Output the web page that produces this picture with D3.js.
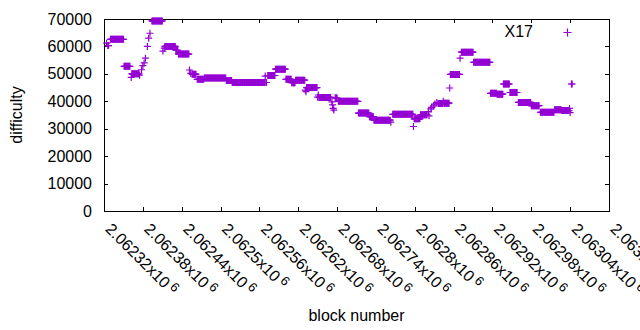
<!DOCTYPE html>
<html lang="en">
<head>
<meta charset="UTF-8">
<title>difficulty</title>
<script src="https://cdn.jsdelivr.net/npm/d3@7"></script>
<style>
  body { margin: 0; background: #fff; }
  text { font-family: "Liberation Sans", Arial, sans-serif; }
</style>
</head>
<body>
<script>

// runs of equal difficulty: first block, number of blocks, difficulty
var runStart = [2062324, 2062326, 2062330, 2062351, 2062362, 2062363, 2062375, 2062378, 2062380, 2062382,
                2062384, 2062387, 2062389, 2062391, 2062394, 2062411, 2062413, 2062414, 2062431, 2062435,
                2062452, 2062454, 2062456, 2062464, 2062475, 2062509, 2062518, 2062569, 2062570, 2062573,
                2062585, 2062601, 2062610, 2062616, 2062631, 2062632, 2062633, 2062650, 2062651, 2062652,
                2062672, 2062673, 2062674, 2062675, 2062677, 2062682, 2062713, 2062730, 2062737, 2062763,
                2062766, 2062798, 2062799, 2062809, 2062821, 2062822, 2062825, 2062826, 2062829, 2062831,
                2062834, 2062836, 2062844, 2062845, 2062854, 2062855, 2062870, 2062872, 2062891, 2062917,
                2062927, 2062937, 2062947, 2062960, 2062980, 2062994, 2063016, 2063027, 2063039, 2063040,
                2063042];
var runCount = [1, 2, 21, 10, 1, 12, 1, 1, 1, 1,
                1, 1, 1, 1, 17, 1, 1, 17, 4, 17,
                1, 1, 7, 11, 34, 9, 51, 1, 2, 12,
                16, 9, 6, 15, 1, 1, 17, 1, 1, 19,
                1, 1, 1, 1, 4, 31, 17, 7, 26, 1,
                32, 1, 10, 11, 1, 1, 1, 1, 1, 1,
                1, 8, 1, 9, 1, 15, 1, 19, 26, 10,
                10, 10, 12, 20, 13, 22, 11, 12, 1, 1,
                2];
var runDiff  = [61200, 60300, 62600, 52750, 48700, 50000, 49500, 51500, 53000, 54000,
                55700, 60000, 63000, 64800, 69300, 58300, 59400, 60000, 58600, 57200,
                51400, 50200, 49900, 48000, 48450, 47600, 46850, 49200, 46850, 49400,
                51700, 48000, 46800, 47700, 44100, 43500, 45000, 41500, 42300, 41400,
                39800, 38700, 37400, 36800, 41200, 40000, 35700, 34400, 33100, 32400,
                35250, 30800, 33600, 35100, 36200, 34700, 37200, 37800, 38300, 39000,
                39600, 39200, 40000, 39300, 44850, 49800, 55700, 57900, 54200, 42900,
                42600, 46300, 43200, 39600, 38400, 36000, 36900, 36600, 37400, 35900,
                46300];

var xTicks = [2062320, 2062380, 2062440, 2062500, 2062560, 2062620, 2062680,
              2062740, 2062800, 2062860, 2062920, 2062980, 2063040, 2063100];
var yTicks = [0, 10000, 20000, 30000, 40000, 50000, 60000, 70000];
var seriesName = "X17";

// one point per block
var points = [];
runStart.forEach(function (s, i) {
    for (var k = 0; k < runCount[i]; k++) {
        points.push({block: s + k, diff: runDiff[i]});
    }
});

var width = 640, height = 330;
var plotL = 104, plotR = 609, plotT = 19, plotB = 211;
var color = "#9400d3";
var fs = "16px";

var svg = d3.select("body").append("svg")
    .attr("width", width)
    .attr("height", height);

var x = d3.scaleLinear().domain([xTicks[0], xTicks[xTicks.length - 1]]).range([plotL, plotR]);
var y = d3.scaleLinear().domain([0, 70000]).range([plotB, plotT]);

// frame + ticks (gnuplot style, inward, mirrored)
var axisB = svg.append("g").attr("transform", "translate(0," + plotB + ")")
    .call(d3.axisBottom(x).tickValues(xTicks).tickSize(-4).tickSizeOuter(0).tickFormat(""));
svg.append("g").attr("transform", "translate(0," + plotT + ")")
    .call(d3.axisTop(x).tickValues(xTicks).tickSize(-4).tickSizeOuter(0).tickFormat(""));
svg.append("g").attr("transform", "translate(" + plotL + ",0)")
    .call(d3.axisLeft(y).tickValues(yTicks).tickSize(-4).tickSizeOuter(0).tickPadding(12)
        .tickFormat(d3.format("d")));
svg.append("g").attr("transform", "translate(" + plotR + ",0)")
    .call(d3.axisRight(y).tickValues(yTicks).tickSize(-4).tickSizeOuter(0).tickFormat(""));

svg.selectAll(".domain, .tick line")
    .attr("stroke", "#000")
    .attr("stroke-width", 1)
    .attr("shape-rendering", "crispEdges");
svg.selectAll(".tick text")
    .attr("fill", "#000")
    .style("font-size", fs)
    .style("font-family", "'Liberation Sans', Arial, sans-serif");

// rotated x tick labels like 2.06232x10^6
axisB.selectAll(".tick text").remove();
axisB.selectAll(".tick").append("text")
    .attr("transform", "translate(0,19) rotate(45)")
    .attr("text-anchor", "start")
    .attr("fill", "#000")
    .style("font-size", fs)
    .each(function (v) {
        var t = d3.select(this);
        t.append("tspan").text(String(+((v / 1e6).toPrecision(6))) + "x10");
        t.append("tspan").attr("dx", 3).attr("dy", -5).style("font-size", "13px").text("6");
    });

// data points as "+" marks
svg.append("g").selectAll("path")
    .data(points)
    .enter()
    .append("path")
    .attr("d", function (d) {
        var cx = x(d.block), cy = y(d.diff);
        return "M" + (cx - 3.5) + "," + cy + "H" + (cx + 3.5) + "M" + cx + "," + (cy - 3.5) + "V" + (cy + 3.5);
    })
    .attr("stroke", color)
    .attr("stroke-width", 1.2)
    .attr("fill", "none");

// legend
svg.append("text")
    .attr("x", 533).attr("y", 37)
    .attr("text-anchor", "end")
    .style("font-size", fs)
    .text(seriesName);
svg.append("path")
    .attr("d", "M563.5,32.5H571.5M567.5,28.5V36.5")
    .attr("stroke", color)
    .attr("stroke-width", 1.2);

// axis titles
svg.append("text")
    .attr("transform", "translate(22," + ((plotT + plotB) / 2) + ") rotate(-90)")
    .attr("text-anchor", "middle")
    .style("font-size", fs)
    .text("difficulty");
svg.append("text")
    .attr("x", (plotL + plotR) / 2).attr("y", 321)
    .attr("text-anchor", "middle")
    .style("font-size", fs)
    .text("block number");

</script>
</body>
</html>
